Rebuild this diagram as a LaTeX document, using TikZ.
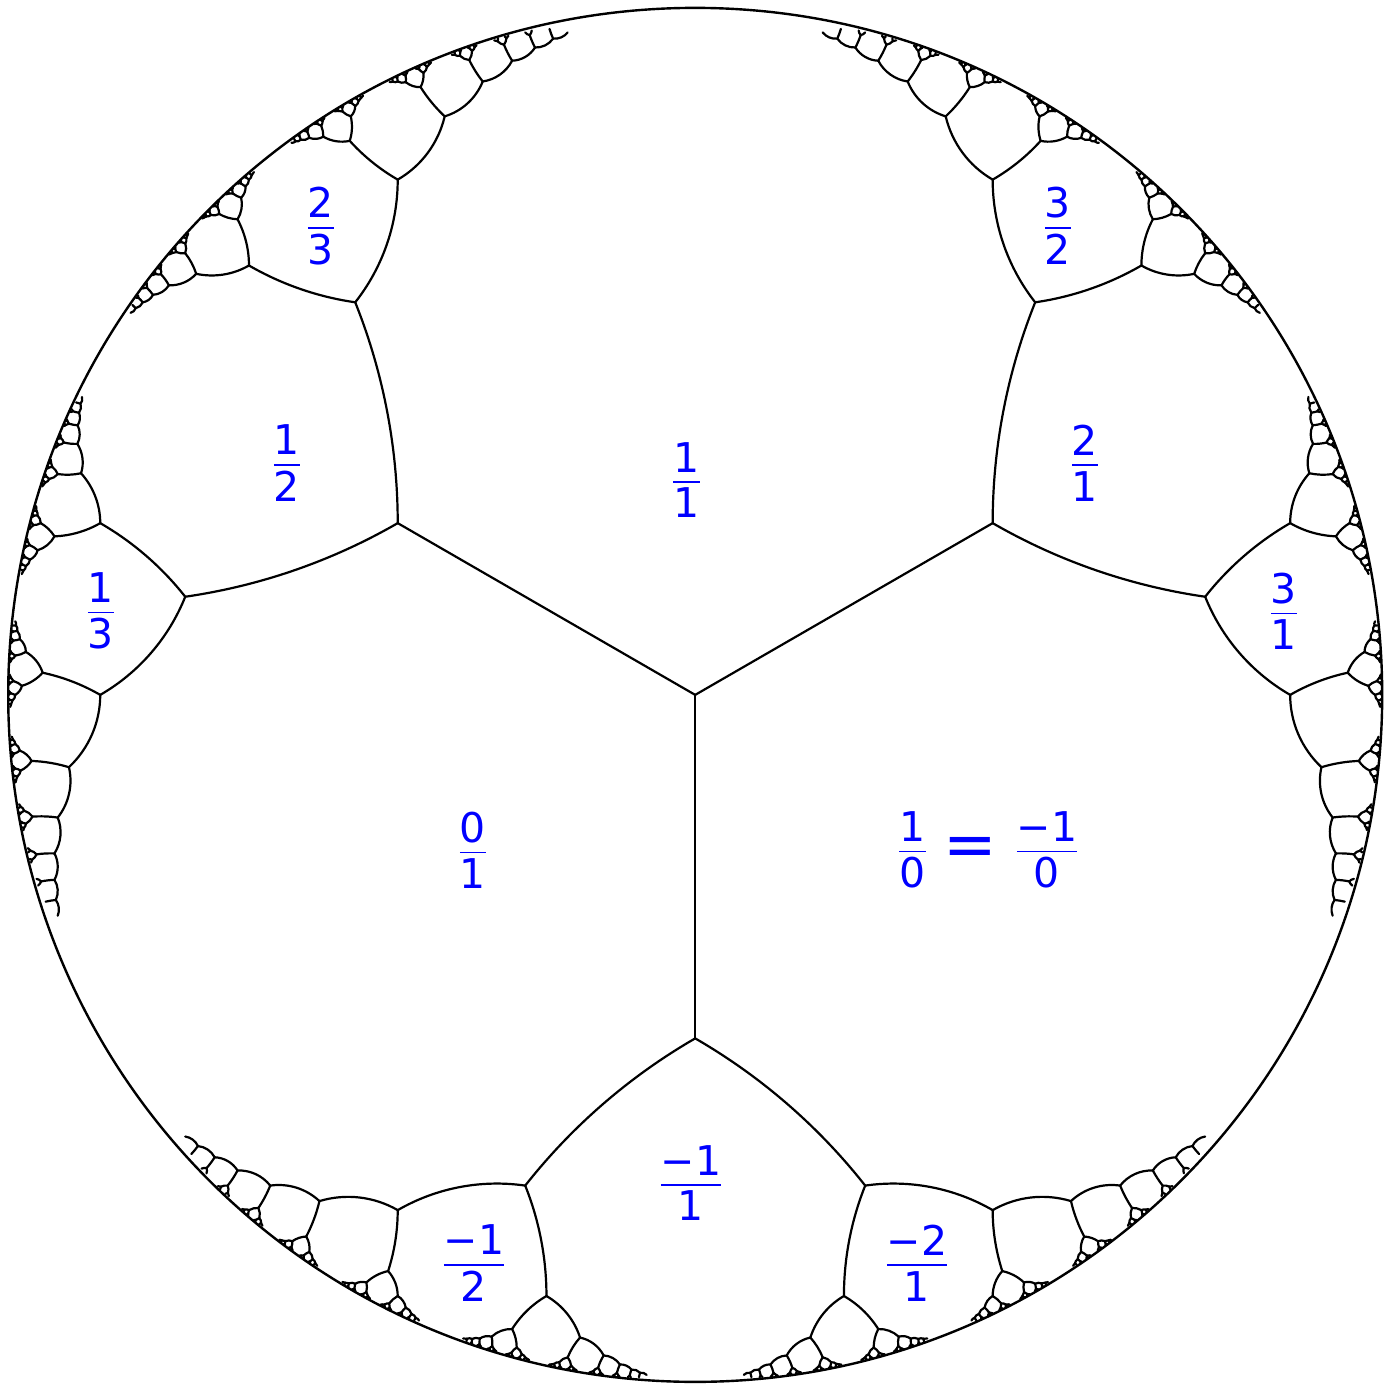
\documentclass[tikz,border=0pt]{standalone}
\usepackage{fontspec}
\setmainfont{DejaVu Sans}
\tikzset{
  treeline/.style={line width=1.1pt, line join=round, line cap=round, black},
  rim/.style={line width=1.2pt, black},
  lab/.style={text=blue, inner sep=0pt, font=\fontsize{20.5}{24}\selectfont},
  eqlab/.style={text=blue, inner sep=0pt, font=\fontsize{32}{32}\selectfont}
}
\newcommand\fbedge[8]{\draw[treeline] (#1,#2) .. controls (#3,#4) and (#5,#6) .. (#7,#8);}
\newcommand\fr[2]{\vbox{\offinterlineskip\halign{\hfil##\hfil\cr #1\cr\noalign{\kern4.5pt\hrule height 0.9pt\kern2.5pt}#2\cr}}}
\ExplSyntaxOn
\fp_new:N \l_fb_d_fp
\fp_new:N \l_fb_ox_fp
\fp_new:N \l_fb_oy_fp
\fp_new:N \l_fb_rr_fp
\fp_new:N \l_fb_ux_fp
\fp_new:N \l_fb_uy_fp
\fp_new:N \l_fb_m_fp
\fp_new:N \l_fb_qx_fp
\fp_new:N \l_fb_qy_fp
\fp_new:N \l_fb_gx_fp
\fp_new:N \l_fb_gy_fp
\fp_new:N \l_fb_dx_fp
\fp_new:N \l_fb_dy_fp
\fp_new:N \l_fb_a_fp
\fp_new:N \l_fb_b_fp
\fp_new:N \l_fb_h_fp
\fp_new:N \l_fb_c_fp
\fp_new:N \l_fb_s_fp
\fp_new:N \l_fb_f_fp
\fp_new:N \l_fb_cax_fp
\fp_new:N \l_fb_cay_fp
\fp_new:N \l_fb_cbx_fp
\fp_new:N \l_fb_cby_fp
\int_const:Nn \c_fb_depth_int {9}
\fp_const:Nn \c_fb_cx_fp {347.6}
\fp_const:Nn \c_fb_cy_fp {345.05}
\fp_const:Nn \c_fb_r_fp {343.5}
\cs_new:Npn \fb_sx:n #1 { \fp_eval:n { \c_fb_cx_fp + \c_fb_r_fp * (#1) } }
\cs_new:Npn \fb_sy:n #1 { \fp_eval:n { \c_fb_cy_fp + \c_fb_r_fp * (#1) } }
\cs_new_protected:Npn \fb_step:nnnnnnnnn #1#2#3#4#5#6#7#8#9
 {
  \fp_set:Nn \l_fb_d_fp { 1 + (#4)*(#6) + (#5)*(#7) }
  \fp_set:Nn \l_fb_ox_fp { ((#4) + (#6)) / \l_fb_d_fp }
  \fp_set:Nn \l_fb_oy_fp { ((#5) + (#7)) / \l_fb_d_fp }
  \fp_set:Nn \l_fb_rr_fp { (1 - (#4)*(#6) - (#5)*(#7)) / \l_fb_d_fp }
  \fp_set:Nn \l_fb_ux_fp { (#2) - \l_fb_ox_fp }
  \fp_set:Nn \l_fb_uy_fp { (#3) - \l_fb_oy_fp }
  \fp_set:Nn \l_fb_m_fp { \l_fb_rr_fp / (\l_fb_ux_fp^2 + \l_fb_uy_fp^2) }
  \fp_set:Nn \l_fb_qx_fp { \l_fb_ox_fp + \l_fb_m_fp * \l_fb_ux_fp }
  \fp_set:Nn \l_fb_qy_fp { \l_fb_oy_fp + \l_fb_m_fp * \l_fb_uy_fp }
  \fp_set:Nn \l_fb_ux_fp { (#8) - \l_fb_ox_fp }
  \fp_set:Nn \l_fb_uy_fp { (#9) - \l_fb_oy_fp }
  \fp_set:Nn \l_fb_m_fp { \l_fb_rr_fp / (\l_fb_ux_fp^2 + \l_fb_uy_fp^2) }
  \fp_set:Nn \l_fb_gx_fp { \l_fb_ox_fp + \l_fb_m_fp * \l_fb_ux_fp }
  \fp_set:Nn \l_fb_gy_fp { \l_fb_oy_fp + \l_fb_m_fp * \l_fb_uy_fp }
  \fp_set:Nn \l_fb_m_fp { sqrt(\l_fb_gx_fp^2 + \l_fb_gy_fp^2) }
  \fp_set:Nn \l_fb_gx_fp { \l_fb_gx_fp / \l_fb_m_fp }
  \fp_set:Nn \l_fb_gy_fp { \l_fb_gy_fp / \l_fb_m_fp }
  \fp_set:Nn \l_fb_dx_fp { \l_fb_qx_fp - (#2) }
  \fp_set:Nn \l_fb_dy_fp { \l_fb_qy_fp - (#3) }
  \fp_set:Nn \l_fb_a_fp { 1 - (#2)*\l_fb_qx_fp - (#3)*\l_fb_qy_fp }
  \fp_set:Nn \l_fb_b_fp { (#3)*\l_fb_qx_fp - (#2)*\l_fb_qy_fp }
  \fp_set:Nn \l_fb_h_fp { sqrt(\l_fb_a_fp^2 + \l_fb_b_fp^2) }
  \fp_set:Nn \l_fb_c_fp { \l_fb_a_fp / \l_fb_h_fp }
  \fp_set:Nn \l_fb_s_fp { \l_fb_b_fp / \l_fb_h_fp }
  \fp_set:Nn \l_fb_f_fp { 2 / (3 * (1 + \l_fb_c_fp)) }
  \fp_set:Nn \l_fb_cax_fp { (#2) + \l_fb_f_fp * (\l_fb_dx_fp*\l_fb_c_fp + \l_fb_dy_fp*\l_fb_s_fp) }
  \fp_set:Nn \l_fb_cay_fp { (#3) + \l_fb_f_fp * (\l_fb_dy_fp*\l_fb_c_fp - \l_fb_dx_fp*\l_fb_s_fp) }
  \fp_set:Nn \l_fb_cbx_fp { \l_fb_qx_fp - \l_fb_f_fp * (\l_fb_dx_fp*\l_fb_c_fp - \l_fb_dy_fp*\l_fb_s_fp) }
  \fp_set:Nn \l_fb_cby_fp { \l_fb_qy_fp - \l_fb_f_fp * (\l_fb_dx_fp*\l_fb_s_fp + \l_fb_dy_fp*\l_fb_c_fp) }
  \use:e
   {
    \exp_not:N \fbedge
     { \fb_sx:n {#2} } { \fb_sy:n {#3} }
     { \fb_sx:n {\l_fb_cax_fp} } { \fb_sy:n {\l_fb_cay_fp} }
     { \fb_sx:n {\l_fb_cbx_fp} } { \fb_sy:n {\l_fb_cby_fp} }
     { \fb_sx:n {\l_fb_qx_fp} } { \fb_sy:n {\l_fb_qy_fp} }
    \int_compare:nNnT {#1} < { \c_fb_depth_int }
     {
      \exp_not:N \fb_step:nnnnnnnnn { \int_eval:n {#1+1} }
        { \fp_use:N \l_fb_qx_fp } { \fp_use:N \l_fb_qy_fp }
        {#4} {#5} { \fp_use:N \l_fb_gx_fp } { \fp_use:N \l_fb_gy_fp } {#6} {#7}
      \exp_not:N \fb_step:nnnnnnnnn { \int_eval:n {#1+1} }
        { \fp_use:N \l_fb_qx_fp } { \fp_use:N \l_fb_qy_fp }
        { \fp_use:N \l_fb_gx_fp } { \fp_use:N \l_fb_gy_fp } {#6} {#7} {#4} {#5}
     }
   }
 }
\cs_new_protected:Npn \fbtree
 {
  \fb_step:nnnnnnnnn {1}{0}{0}{-0.8660254037844386}{-0.5}{0}{1}{0.8660254037844386}{-0.5}
  \fb_step:nnnnnnnnn {1}{0}{0}{0}{1}{0.8660254037844386}{-0.5}{-0.8660254037844386}{-0.5}
  \fb_step:nnnnnnnnn {1}{0}{0}{0.8660254037844386}{-0.5}{-0.8660254037844386}{-0.5}{0}{1}
 }
\ExplSyntaxOff
\begin{document}
\begin{tikzpicture}[x=1pt,y=1pt]
\useasboundingbox (0,0) rectangle (697,692.5);
\fbtree
\draw[rim] (347.6,345.05) circle[radius=343.5];
\node[lab] (l11) at (343.25,452.5) {\fr{1}{1}};
\node[lab] (l01) at (236.5,267.5) {\fr{0}{1}};
\node[lab] (l10) at (456.25,267.5) {\fr{1}{0}};
\node[eqlab] (leq) at (485,266.75) {=};
\node[lab] (lm10) at (523.5,267.5) {\fr{−1}{0}};
\node[lab] (lm11) at (345.5,101) {\fr{−1}{1}};
\node[lab] (lm12) at (237,61) {\fr{−1}{2}};
\node[lab] (lm21) at (458.5,61) {\fr{−2}{1}};
\node[lab] (l12) at (143.5,461) {\fr{1}{2}};
\node[lab] (l21) at (542.5,461) {\fr{2}{1}};
\node[lab] (l23) at (160.5,579.5) {\fr{2}{3}};
\node[lab] (l32) at (529,579.5) {\fr{3}{2}};
\node[lab] (l13) at (50.5,387) {\fr{1}{3}};
\node[lab] (l31) at (642,387) {\fr{3}{1}};
\end{tikzpicture}
\end{document}
